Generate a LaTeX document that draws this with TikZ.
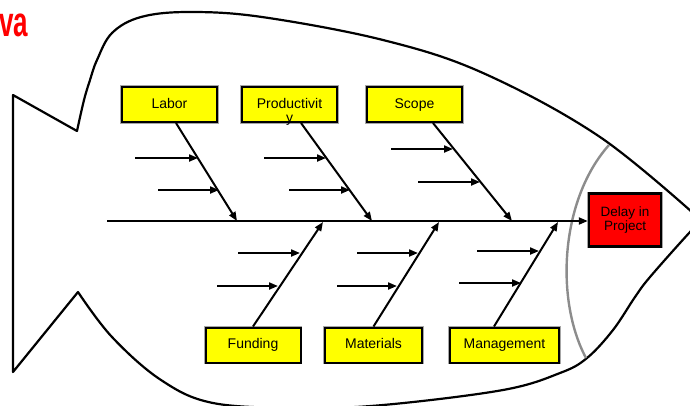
\documentclass[tikz,border=0pt]{standalone}
\usepackage{fontspec}
\setmainfont{Liberation Sans}
\usetikzlibrary{arrows.meta}
\definecolor{fishyellow}{RGB}{255,255,0}
\definecolor{fishred}{RGB}{255,0,0}
\tikzset{
  outline/.style={line width=2.2pt, line join=round},
  arc/.style={line width=2.4pt, draw=black!45},
  cause/.style={draw=black, line width=2pt, fill=fishyellow, minimum width=95pt, minimum height=35pt,
    inner sep=0pt, font=\fontsize{14}{15}\selectfont, text height=10pt, text depth=3pt,
    preaction={draw=black!35, line width=3.4pt}},
  effect/.style={draw=black, line width=2.4pt, fill=fishred, minimum width=72pt, minimum height=53pt,
    inner sep=0pt, align=center, font=\fontsize{13.5}{14}\selectfont,
    preaction={draw=black!35, line width=3.8pt}},
  arr/.style={line width=2pt, -{Triangle[length=9pt,width=7pt]}},
}
\begin{document}
\begin{tikzpicture}[x=1pt,y=-1pt]
\useasboundingbox (0,0) rectangle (690,405);
% fish outline
\draw[outline] (13,95) -- (77,131)
  -- plot[smooth,tension=0.6] coordinates {(77,131) (84,100) (90,80) (97,60) (112,33) (141,17) (189,12) (262,17) (383,40) (483,73) (600,137) (702,221)}
  -- plot[smooth,tension=0.6] coordinates {(702,221) (690,232) (650,277) (635,297) (613,330) (587,358) (560,373) (503,390) (383,405) (300,408) (213,403) (161,380) (112,337) (78,292)}
  -- (13,372) -- cycle;
% gill arc
\draw[arc] (609,145) .. controls (560,200) and (555,300) .. (586,358);
% title fragment
\node[anchor=base east, inner sep=0pt, text=fishred, font=\fontsize{42}{42}\selectfont\bfseries] (title) at (28.5,36) {\scalebox{0.62}[1]{va}};
% nodes
\node[effect] (delay) at (625,220) {Delay in\\Project};
\node[cause] (labor) at (169.5,104.5) {Labor};
\node[cause] (prod) at (289.5,104.5) {\begin{tabular}[t]{@{}c@{}}Productivit\\[-1pt]y\end{tabular}};
\node[cause] (scope) at (414.5,104.5) {Scope};
\node[cause] (funding) at (253,345) {Funding};
\node[cause, minimum width=97pt] (materials) at (373.5,345) {Materials};
\node[cause, minimum width=109pt] (management) at (504.5,345) {Management};
% spine
\coordinate (tail) at (107,221);
\draw[arr] (tail) -- (delay.west |- tail);
% spine points
\coordinate (s1) at (237,221);
\coordinate (s2) at (372,221);
\coordinate (s3) at (512,221);
\coordinate (s4) at (323,222);
\coordinate (s5) at (439,222);
\coordinate (s6) at (558,222);
% main bones
\draw[arr] ([xshift=6.5pt]labor.south) -- (s1);
\draw[arr] ([xshift=11.5pt]prod.south) -- (s2);
\draw[arr] ([xshift=18.5pt]scope.south) -- (s3);
\draw[arr] (funding.north) -- (s4);
\draw[arr] (materials.north) -- (s5);
\draw[arr] ([xshift=-10.5pt]management.north) -- (s6);
% sub-cause arrows
\coordinate (a1) at (135,158); \coordinate (b1) at (198,158);
\coordinate (a2) at (158,190); \coordinate (b2) at (219,190);
\coordinate (a3) at (264,158); \coordinate (b3) at (326,158);
\coordinate (a4) at (289,190); \coordinate (b4) at (350,190);
\coordinate (a5) at (391,149); \coordinate (b5) at (453,149);
\coordinate (a6) at (418,182); \coordinate (b6) at (480,182);
\coordinate (a7) at (238,253); \coordinate (b7) at (300,253);
\coordinate (a8) at (217,286); \coordinate (b8) at (278,286);
\coordinate (a9) at (357,253); \coordinate (b9) at (418,253);
\coordinate (a10) at (337,286); \coordinate (b10) at (397,286);
\coordinate (a11) at (477,251); \coordinate (b11) at (539,251);
\coordinate (a12) at (459,283); \coordinate (b12) at (521,283);
\foreach \i in {1,...,12} { \draw[arr] (a\i) -- (b\i); }
\end{tikzpicture}
\end{document}
